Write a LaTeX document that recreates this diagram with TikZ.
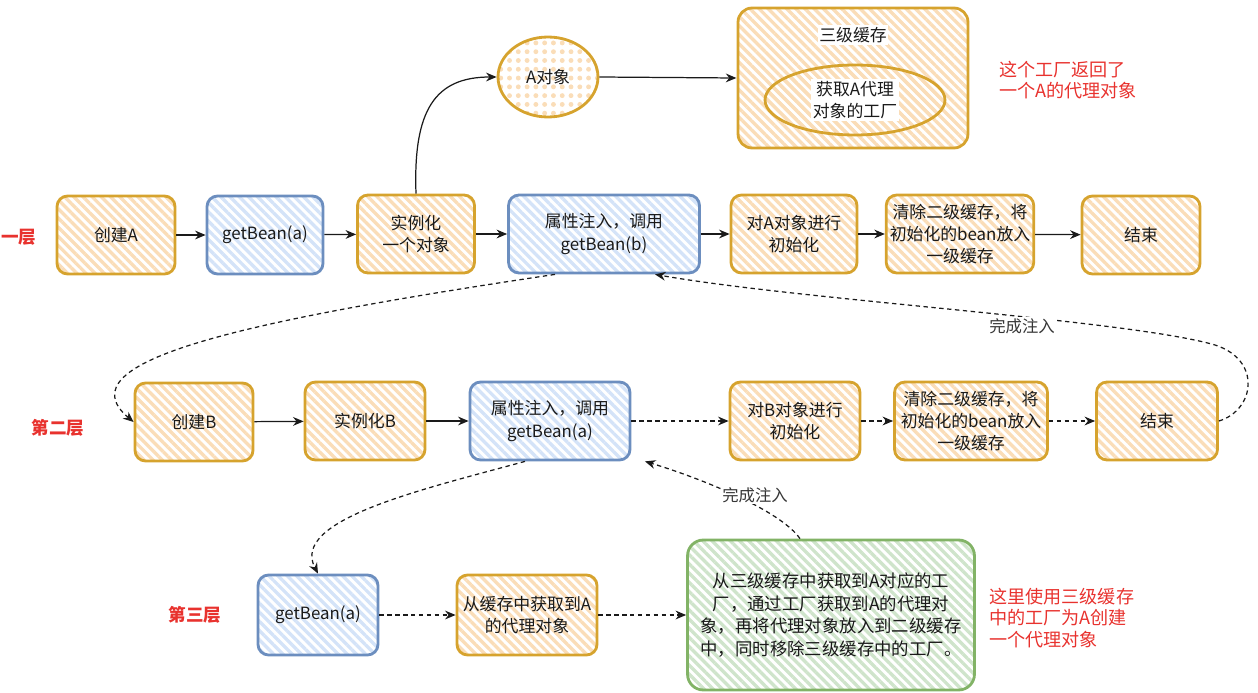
\documentclass[tikz,border=0pt]{standalone}
\usepackage{fontspec}
\setmainfont{Noto Sans CJK SC}
\usetikzlibrary{arrows.meta,shapes.geometric,patterns.meta}
\definecolor{oborder}{HTML}{D6A32E}
\definecolor{ofill}{HTML}{FADDB8}
\definecolor{bborder}{HTML}{6C8EBF}
\definecolor{bfill}{HTML}{D4E3F8}
\definecolor{gborder}{HTML}{82B366}
\definecolor{gfill}{HTML}{CFE4CB}
\definecolor{redtxt}{HTML}{E8322E}
\definecolor{txt}{HTML}{1A1A1A}
\newcommand\myfs{\fontsize{9.6}{12.6}\selectfont}
\tikzset{
  box/.style={draw, rounded corners=6pt, line width=1.6pt, align=center, font=\myfs, text=txt, inner sep=2pt, minimum height=1.56cm},
  stripes/.style={pattern={Lines[angle=-45,distance=3.7pt,line width=1.9pt]}},
  obox/.style={box, draw=oborder, stripes, pattern color=ofill},
  bbox/.style={box, draw=bborder, stripes, pattern color=bfill},
  gbox/.style={box, draw=gborder, stripes, pattern color=gfill},
  arr/.style={-{Stealth[length=6pt,width=5pt]}, line width=0.7pt, draw=txt},
  darr/.style={arr, dash pattern=on 2.5pt off 2pt},
  layer/.style={font=\fontsize{10}{12}\selectfont\bfseries, text=redtxt},
  note/.style={font=\fontsize{10.3}{12.4}\selectfont, text=redtxt, align=left, anchor=west, inner sep=0pt},
  wlbl/.style={font=\fontsize{9.3}{11}\selectfont, text=txt!88, fill=white, inner sep=1pt}
}
\begin{document}
\begin{tikzpicture}[x=0.02cm,y=-0.02cm]
\useasboundingbox (0,0) rectangle (1258,693);
% top area
\node[draw=oborder, line width=1.6pt, rounded corners=8pt, stripes, pattern color=ofill, minimum width=4.6cm, minimum height=2.8cm] (cache) at (853,78) {};
\node[ellipse, draw=oborder, line width=1.6pt, stripes, pattern color=ofill, minimum width=3.6cm, minimum height=1.4cm, inner sep=0pt] (fac) at (855,100) {};
\node[font=\myfs, text=txt, fill=white, inner sep=1pt] (cachelbl) at (853,35) {三级缓存};
\node[font=\myfs, text=txt, fill=white, inner sep=1pt, align=center] (faclbl) at (855,100) {获取A代理\\对象的工厂};
\node[ellipse, draw=oborder, line width=1.6pt, pattern={Dots[radius=1.4pt,distance=5pt]}, pattern color=ofill, minimum width=2.0cm, minimum height=1.6cm, inner sep=0pt, font=\myfs, text=txt] (aobj) at (548,77) {A对象};
\node[note] (n1) at (999,80) {这个工厂返回了\\一个A的代理对象};
% row 1
\node[layer, anchor=west, inner sep=0pt] (L1) at (1,237) {一层};
\node[obox, minimum width=2.36cm] (cA) at (116,235) {创建A};
\node[bbox, minimum width=2.32cm] (gA) at (265,235) {getBean(a)};
\node[obox, minimum width=2.34cm] (inst) at (416,234) {实例化\\一个对象};
\node[bbox, minimum width=3.82cm] (attr1) at (604,234) {属性注入，调用\\getBean(b)};
\node[obox, minimum width=2.52cm] (initA) at (794,234) {对A对象进行\\初始化};
\node[obox, minimum width=2.8cm] (clr1) at (960,234) {清除二级缓存，将\\初始化的bean放入\\一级缓存};
\node[obox, minimum width=2.36cm] (end1) at (1141,235) {结束};
% row 2
\node[layer] (L2) at (58,428) {第二层};
\node[obox, minimum width=2.36cm] (cB) at (194,422) {创建B};
\node[obox, minimum width=2.4cm] (instB) at (365,421) {实例化B};
\node[bbox, minimum width=3.2cm] (attr2) at (550,421) {属性注入，调用\\getBean(a)};
\node[obox, minimum width=2.6cm] (initB) at (795,421) {对B对象进行\\初始化};
\node[obox, minimum width=3.06cm] (clr2) at (971,421) {清除二级缓存，将\\初始化的bean放入\\一级缓存};
\node[obox, minimum width=2.42cm] (end2) at (1157,421) {结束};
% row 3
\node[layer] (L3) at (195,615) {第三层};
\node[bbox, minimum width=2.4cm, minimum height=1.6cm] (g3) at (318,615) {getBean(a)};
\node[obox, minimum width=2.8cm, minimum height=1.6cm] (fc) at (527,615) {从缓存中获取到A\\的代理对象};
\node[gbox, minimum width=5.74cm, minimum height=3.0cm, rounded corners=9pt, font=\fontsize{9.9}{13}\selectfont] (green) at (831,615) {从三级缓存中获取到A对应的工\\厂，通过工厂获取到A的代理对\\象，再将代理对象放入到二级缓存\\中，同时移除三级缓存中的工厂。};
\node[note] (n2) at (989,618) {这里使用三级缓存\\中的工厂为A创建\\一个代理对象};
% connectors row 1
\draw[arr] (cA) -- (gA);
\draw[arr] (gA) -- (inst);
\draw[arr] (inst) -- (attr1);
\draw[arr] (attr1) -- (initA);
\draw[arr] (initA) -- (clr1);
\draw[arr] (clr1) -- (end1);
\draw[arr] (inst.north) .. controls (413,110) and (435,77) .. (aobj.west);
\draw[arr] (aobj.east) -- (cache.west);
% row 2
\draw[arr] (cB) -- (instB);
\draw[arr] (instB) -- (attr2);
\draw[darr] (attr2) -- (initB);
\draw[darr] (initB) -- (clr2);
\draw[darr] (clr2) -- (end2);
% row 3
\draw[darr] (g3) -- (fc);
\draw[darr] (fc) -- (green);
% dashed curves
\draw[darr] ([xshift=-0.98cm]attr1.south) .. controls (250,320) and (60,360) .. (cB.west);
\draw[darr] (end2.east) .. controls (1255,410) and (1262,360) .. (1215,345) .. controls (1130,320) and (800,300) .. ([xshift=1.02cm]attr1.south);
\draw[darr] ([xshift=-0.5cm]attr2.south) .. controls (420,490) and (290,520) .. (g3.north);
\draw[darr] ([xshift=-0.62cm]green.north) .. controls (780,510) and (700,478) .. ([xshift=1.9cm]attr2.south);
\node[wlbl] (c1) at (1022,326) {完成注入};
\node[wlbl] (c2) at (755,495) {完成注入};
\end{tikzpicture}
\end{document}
